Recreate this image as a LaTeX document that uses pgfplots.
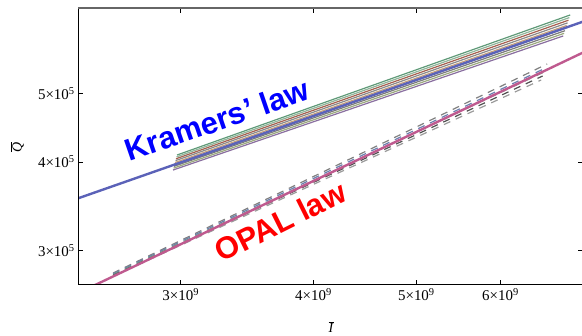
\documentclass[border=0pt]{standalone}
\usepackage{fontspec}
\setmainfont{Liberation Serif}
\newfontfamily\lsans{Liberation Sans}
\usepackage{pgfplots}
\pgfplotsset{compat=1.18}
\definecolor{kblue}{HTML}{5B62B8}
\definecolor{opal}{HTML}{BF5A8F}
\definecolor{b0}{HTML}{5F9A78}
\definecolor{b1}{HTML}{8FB59A}
\definecolor{b2}{HTML}{A5604F}
\definecolor{b3}{HTML}{8A8A8A}
\definecolor{b4}{HTML}{C9A27A}
\definecolor{b5}{HTML}{6F86A8}
\definecolor{b6}{HTML}{7A7A7A}
\definecolor{b7}{HTML}{9AA87E}
\definecolor{b8}{HTML}{8A6FA0}
\definecolor{d0}{HTML}{808080}
\definecolor{d1}{HTML}{6B7FAE}
\definecolor{d2}{HTML}{6F9A80}
\definecolor{d3}{HTML}{505050}
\definecolor{d4}{HTML}{9A9A9A}
\begin{document}
\begin{tikzpicture}
\begin{axis}[
  at={(78bp,51bp)}, anchor=south west,
  scale only axis, width=505bp, height=277bp,
  xmode=log, ymode=log,
  xmin=2.4015e9, xmax=7.178e9, ymin=2.6846e5, ymax=6.595e5,
  xtick={3e9,4e9,5e9,6e9},
  xticklabels={3×10\textsuperscript{9},4×10\textsuperscript{9},5×10\textsuperscript{9},6×10\textsuperscript{9}},
  ytick={3e5,4e5,5e5},
  yticklabels={3×10\textsuperscript{5},4×10\textsuperscript{5},5×10\textsuperscript{5}},
  minor tick style={draw=none},
  tick align=inside,
  major tick length=5bp,
  tick style={black, line width=0.9bp},
  axis line style={draw=none},
  ticklabel style={font=\fontsize{15}{18}\selectfont},
  xlabel={$\overline{\hbox{\fontsize{14}{16}\selectfont\textit{I}}}$},
  ylabel={$\overline{\hbox{\fontsize{14}{16}\selectfont\textit{Q}}}$},
  xlabel style={at={(axis description cs:0.501,-0.152)}, anchor=center},
  ylabel style={at={(axis description cs:-0.1208,0.498)}, anchor=center, rotate=0},
]
% Kramers bundle
\addplot[b0, line width=1.2bp] coordinates {(2.9760e9,4.0927e5) (6.9791e9,6.4466e5)};
\addplot[b1, line width=1.2bp] coordinates {(2.9728e9,4.0679e5) (6.9659e9,6.3919e5)};
\addplot[b2, line width=1.2bp] coordinates {(2.9696e9,4.0432e5) (6.9526e9,6.3377e5)};
\addplot[b3, line width=1.2bp] coordinates {(2.9664e9,4.0186e5) (6.9395e9,6.2839e5)};
\addplot[b4, line width=1.2bp] coordinates {(2.9632e9,3.9943e5) (6.9263e9,6.2306e5)};
\addplot[b5, line width=1.2bp] coordinates {(2.9600e9,3.9700e5) (6.9132e9,6.1777e5)};
\addplot[b6, line width=1.2bp] coordinates {(2.9567e9,3.9459e5) (6.9002e9,6.1253e5)};
\addplot[b7, line width=1.2bp] coordinates {(2.9535e9,3.9220e5) (6.8870e9,6.0733e5)};
\addplot[b8, line width=1.2bp] coordinates {(2.9503e9,3.8982e5) (6.8740e9,6.0218e5)};
% Kramers law
\addplot[kblue, line width=2.4bp] coordinates {(2.4015e9,3.5563e5) (7.3e9,6.365e5)};
% OPAL dashed bundle
\addplot[d0, line width=1.2bp, dash pattern=on 7bp off 6bp] coordinates {(2.5904e9,2.7905e5) (6.6394e9,5.4988e5)};
\addplot[d1, line width=1.2bp, dash pattern=on 7bp off 6bp] coordinates {(2.5904e9,2.7833e5) (6.6179e9,5.4279e5)};
\addplot[d2, line width=1.2bp, dash pattern=on 7bp off 6bp] coordinates {(2.5904e9,2.7761e5) (6.5964e9,5.3578e5)};
\addplot[d3, line width=1.2bp, dash pattern=on 7bp off 6bp] coordinates {(2.5904e9,2.7689e5) (6.5750e9,5.2887e5)};
\addplot[d4, line width=1.2bp, dash pattern=on 7bp off 6bp] coordinates {(2.5904e9,2.7617e5) (6.5536e9,5.2206e5)};
% OPAL law
\addplot[opal, line width=2.4bp] coordinates {(2.4015e9,2.6146e5) (7.3e9,5.777e5)};
% frame
\draw[black, line width=1.2bp] (rel axis cs:0,1) -- (rel axis cs:0,0) -- (rel axis cs:1,0);
\draw[black!60, line width=1.5bp] (rel axis cs:0,1) -- (rel axis cs:1,1);
% labels
\node[font=\lsans\fontsize{31}{37}\bfseries\selectfont, text=blue, rotate=19, anchor=base, inner sep=0pt] at (rel axis cs:0.2822,0.5578) {Kramers’ law};
\node[font=\lsans\fontsize{31}{37}\bfseries\selectfont, text=red, rotate=26.5, anchor=base, inner sep=0pt] at (rel axis cs:0.410,0.1935) {OPAL law};
\end{axis}
\pgfresetboundingbox
\useasboundingbox (0,0) rectangle (582bp,336bp);
\end{tikzpicture}
\end{document}
